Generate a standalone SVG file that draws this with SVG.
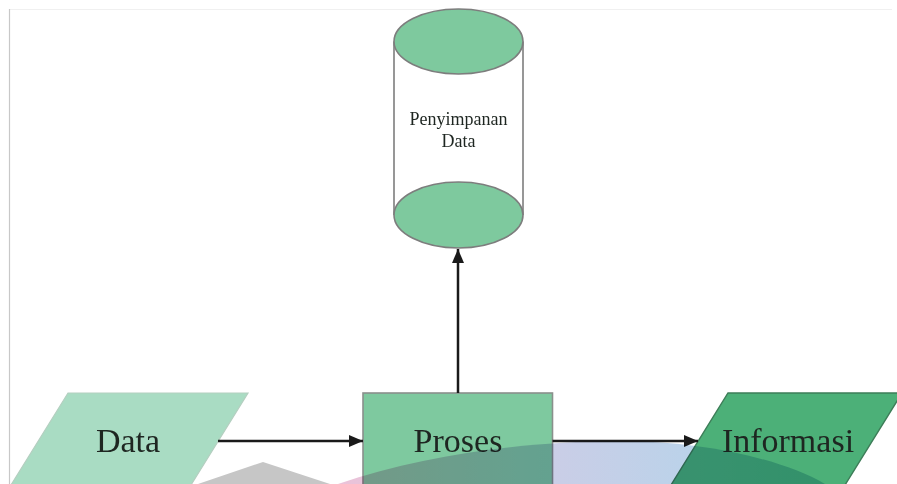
<svg xmlns="http://www.w3.org/2000/svg" width="897" height="484" viewBox="0 0 897 484">
  <defs>
    <style>
      .lbl { font-family: "Liberation Serif", "Times New Roman", serif; fill: #1e2621; text-anchor: middle; }
      .big { font-size: 34px; }
      .small { font-size: 18px; }
      .flow { stroke: #1a1a1a; stroke-width: 2.5; fill: none; }
      .disk { fill: #7ec99e; stroke: #7d7d7d; stroke-width: 1.6; }
      .side { stroke: #7d7d7d; stroke-width: 1.6; }
    </style>
    <marker id="arrow" viewBox="0 0 14 12" refX="14" refY="6" markerWidth="14" markerHeight="12" markerUnits="userSpaceOnUse" orient="auto">
      <path d="M0,0 L14,6 L0,12 Z" fill="#1a1a1a"/>
    </marker>
    <linearGradient id="wash" gradientUnits="userSpaceOnUse" x1="338" y1="0" x2="830" y2="0">
      <stop offset="0" stop-color="#ecc2d8"/>
      <stop offset="0.4" stop-color="#cccde6"/>
      <stop offset="0.75" stop-color="#b9d3ea"/>
      <stop offset="1" stop-color="#a9d2e2"/>
    </linearGradient>
  </defs>

  <rect width="897" height="484" fill="#ffffff"/>
  <!-- page frame -->
  <line x1="9" y1="9.5" x2="892" y2="9.5" stroke="#f0f0f0" stroke-width="1"/>
  <line x1="9.5" y1="9" x2="9.5" y2="484" stroke="#c8c8c8" stroke-width="1.2"/>

  <!-- storage cylinder -->
  <g id="storage">
    <rect x="394" y="41.5" width="129" height="173.5" fill="#ffffff"/>
    <line class="side" x1="394" y1="41.5" x2="394" y2="215"/>
    <line class="side" x1="523" y1="41.5" x2="523" y2="215"/>
    <ellipse class="disk" cx="458.5" cy="41.5" rx="64.5" ry="32.5"/>
    <ellipse class="disk" cx="458.5" cy="215" rx="64.5" ry="33"/>
    <text class="lbl small" x="458.5" y="125">Penyimpanan</text>
    <text class="lbl small" x="458.5" y="147">Data</text>
  </g>

  <!-- input -->
  <g id="data">
    <polygon points="68,393 248,393 181.7,500 1.7,500" fill="#a9dcc3" stroke="#b4cfc0" stroke-width="1.2"/>
    <text class="lbl big" x="128" y="452">Data</text>
  </g>

  <!-- process -->
  <g id="proses">
    <rect x="363" y="393" width="189.5" height="100" fill="#7ec99f" stroke="#8a8f8c" stroke-width="1.6"/>
    <text class="lbl big" x="458" y="452">Proses</text>
  </g>

  <!-- output -->
  <g id="informasi">
    <polygon points="728,393 902,393 835.7,500 661.7,500" fill="#4cb078" stroke="#3d7d58" stroke-width="1.4"/>
    <text class="lbl big" x="788" y="452">Informasi</text>
  </g>

  <!-- connectors -->
  <g id="connectors">
    <line class="flow" x1="218" y1="441" x2="363" y2="441" marker-end="url(#arrow)"/>
    <line class="flow" x1="552.5" y1="441" x2="698" y2="441" marker-end="url(#arrow)"/>
    <line class="flow" x1="458" y1="393" x2="458" y2="249" marker-end="url(#arrow)"/>
  </g>

  <!-- background wash shapes along the lower edge -->
  <polygon points="198,484 263,462 330,484" fill="#c6c6c6" style="mix-blend-mode:multiply"/>
  <path d="M338,484 C430,452 540,441 620,441 C700,441 780,458 825,484 Z" fill="url(#wash)" style="mix-blend-mode:multiply"/>
</svg>
